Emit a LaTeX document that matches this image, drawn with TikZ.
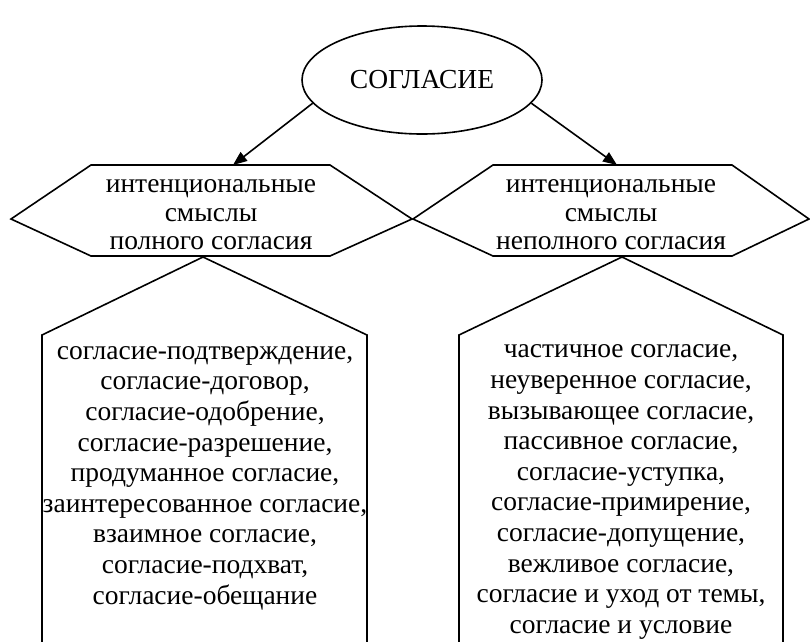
\documentclass[tikz,border=0pt]{standalone}
\usepackage{fontspec}
\setmainfont{Liberation Serif}
\usetikzlibrary{shapes.geometric,arrows.meta}
\begin{document}
\begin{tikzpicture}[x=1pt,y=-1pt,
  line/.style={line width=1.6pt,line join=miter},
  arr/.style={line,-{Triangle[length=14pt,width=11pt]}},
  txt/.style={align=center,inner sep=0pt,font=\fontsize{27.5}{28.5}\selectfont},
  lst/.style={align=center,inner sep=0pt,font=\fontsize{27.5}{30.6}\selectfont}]
\useasboundingbox (0,0) rectangle (810,641);
\clip (0,0) rectangle (810,641);
% ellipse
\node[ellipse,draw,line,minimum width=240pt,minimum height=108pt,inner sep=0pt,
  font=\fontsize{27.5}{30}\selectfont] (ell) at (422,80) {СОГЛАСИЕ};
% hexagons
\draw[line] (11,219) -- (91,165) -- (330,165) -- (412,219) -- (330,256) -- (91,256) -- cycle;
\draw[line] (413,219) -- (493,165) -- (732,165) -- (809,219) -- (732,256) -- (493,256) -- cycle;
\node[txt] (hl) at (211,215) {интенциональные\\смыслы\\полного согласия};
\node[txt] (hr) at (611,215) {интенциональные\\смыслы\\неполного согласия};
\coordinate (hlt) at (233,165);
\coordinate (hrt) at (617,165);
\coordinate (hlb) at (203,257);
\coordinate (hrb) at (622,257);
% arrows
\draw[arr] (ell.192) -- (hlt);
\draw[arr] (ell.348) -- (hrt);
% pentagons
\draw[line] (42,680) -- (42,335) -- (hlb) -- (367,335) -- (367,680);
\draw[line] (459,680) -- (459,335) -- (hrb) -- (783,335) -- (783,680);
\node[lst] (ll) at (205,478) {согласие-подтверждение,\\согласие-договор,\\согласие-одобрение,\\согласие-разрешение,\\продуманное согласие,\\заинтересованное согласие,\\взаимное согласие,\\согласие-подхват,\\согласие-обещание};
\node[lst] (lr) at (621,492) {частичное согласие,\\неуверенное согласие,\\вызывающее согласие,\\пассивное согласие,\\согласие-уступка,\\согласие-примирение,\\согласие-допущение,\\вежливое согласие,\\согласие и уход от темы,\\согласие и условие};
\end{tikzpicture}
\end{document}
